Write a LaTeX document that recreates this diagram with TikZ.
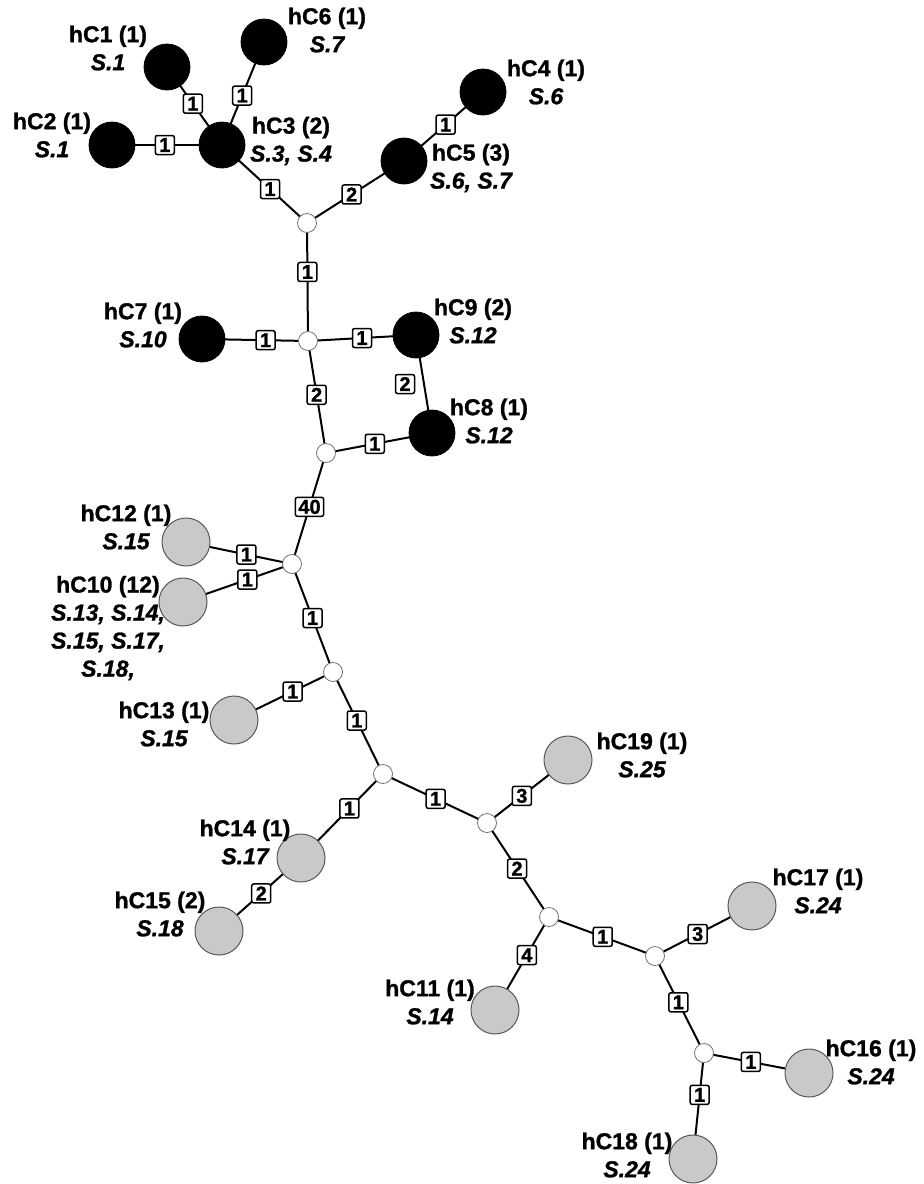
\documentclass[tikz,border=0pt]{standalone}
\usepackage{fontspec}
\setmainfont{Liberation Sans}[BoldFeatures={FakeBold=1.2},BoldItalicFeatures={FakeBold=1.2}]
\usetikzlibrary{backgrounds}
\tikzset{
  blk/.style={circle, fill=black, draw=black, line width=0.8pt, minimum size=46pt, inner sep=0pt},
  gry/.style={circle, fill=black!21, draw=black!65, line width=1pt, minimum size=48pt, inner sep=0pt},
  jn/.style={circle, fill=white, draw=black!55, line width=0.8pt, minimum size=19pt, inner sep=0pt},
  edge/.style={draw=black, line width=2pt},
  lab/.style={draw=black, fill=white, line width=1.5pt, rounded corners=2pt, minimum height=19pt, minimum width=19pt, inner xsep=3pt, inner ysep=1pt, font=\fontsize{20}{20}\selectfont\bfseries},
  txt/.style={align=center, font=\fontsize{23}{28}\selectfont\bfseries}
}
\begin{document}
\begin{tikzpicture}[x=1pt,y=-1pt]
\useasboundingbox (0,0) rectangle (924,1184);
% hubs
\node[blk] (c1) at (167,67) {};
\node[blk] (c6) at (264,42) {};
\node[blk] (c2) at (112,145) {};
\node[blk] (c3) at (222,145) {};
\node[blk] (c4) at (483,92) {};
\node[blk] (c5) at (404,161) {};
\node[blk] (c7) at (202,339) {};
\node[blk] (c9) at (416,335) {};
\node[blk] (c8) at (432,433) {};
\node[gry] (c12) at (186,542) {};
\node[gry] (c10) at (183,602) {};
\node[gry] (c13) at (234,720) {};
\node[gry] (c14) at (301,858) {};
\node[gry] (c15) at (219,931) {};
\node[gry] (c19) at (568,760) {};
\node[gry] (c11) at (495,1010) {};
\node[gry] (c17) at (752,906) {};
\node[gry] (c16) at (809,1073) {};
\node[gry] (c18) at (693,1159) {};
% junctions
\node[jn] (j1) at (307,223) {};
\node[jn] (j2) at (308,341) {};
\node[jn] (j3) at (326,453) {};
\node[jn] (j4) at (292,564) {};
\node[jn] (j5) at (333,672) {};
\node[jn] (j6) at (383,774) {};
\node[jn] (j7) at (487,823) {};
\node[jn] (j8) at (549,917) {};
\node[jn] (j9) at (655,956) {};
\node[jn] (j10) at (704,1053) {};
% edges
\begin{scope}[on background layer]
\draw[edge] (c3.center) -- node[lab,pos=0.53] {1} (c1.center);
\draw[edge] (c3.center) -- node[lab,pos=0.48] {1} (c6.center);
\draw[edge] (c2.center) -- node[lab,pos=0.48] {1} (c3.center);
\draw[edge] (c3.center) -- node[lab,pos=0.565] {1} (j1.center);
\draw[edge] (j1.center) -- node[lab,pos=0.46] {2} (c5.center);
\draw[edge] (c5.center) -- node[lab,pos=0.527] {1} (c4.center);
\draw[edge] (j1.center) -- node[lab,pos=0.415] {1} (j2.center);
\draw[edge] (c7.center) -- node[lab,pos=0.6] {1} (j2.center);
\draw[edge] (j2.center) -- node[lab,pos=0.5] {1} (c9.center);
\draw[edge] (j2.center) -- node[lab,pos=0.48] {2} (j3.center);
\draw[edge] (c9.center) -- node[lab,pos=0.5,xshift=-19pt] {2} (c8.center);
\draw[edge] (j3.center) -- node[lab,pos=0.46] {1} (c8.center);
\draw[edge] (j3.center) -- node[lab,pos=0.485] {40} (j4.center);
\draw[edge] (c12.center) -- node[lab,pos=0.57] {1} (j4.center);
\draw[edge] (c10.center) -- node[lab,pos=0.59] {1} (j4.center);
\draw[edge] (j4.center) -- node[lab,pos=0.5] {1} (j5.center);
\draw[edge] (c13.center) -- node[lab,pos=0.593] {1} (j5.center);
\draw[edge] (j5.center) -- node[lab,pos=0.476] {1} (j6.center);
\draw[edge] (j6.center) -- node[lab,pos=0.41] {1} (c14.center);
\draw[edge] (c14.center) -- node[lab,pos=0.485] {2} (c15.center);
\draw[edge] (j6.center) -- node[lab,pos=0.506] {1} (j7.center);
\draw[edge] (j7.center) -- node[lab,pos=0.43] {3} (c19.center);
\draw[edge] (j7.center) -- node[lab,pos=0.485] {2} (j8.center);
\draw[edge] (j8.center) -- node[lab,pos=0.41] {4} (c11.center);
\draw[edge] (j8.center) -- node[lab,pos=0.507] {1} (j9.center);
\draw[edge] (j9.center) -- node[lab,pos=0.44] {3} (c17.center);
\draw[edge] (j9.center) -- node[lab,pos=0.477] {1} (j10.center);
\draw[edge] (j10.center) -- node[lab,pos=0.446] {1} (c16.center);
\draw[edge] (j10.center) -- node[lab,pos=0.395] {1} (c18.center);
\end{scope}
% texts
\node[txt] (t1) at (108,48) {hC1 (1)\\\itshape S.1};
\node[txt] (t6) at (327,30) {hC6 (1)\\\itshape S.7};
\node[txt] (t2) at (52,135) {hC2 (1)\\\itshape S.1};
\node[txt] (t3) at (291,141) {hC3 (2)\\\itshape S.3, S.4};
\node[txt] (t4) at (546,82) {hC4 (1)\\\itshape S.6};
\node[txt] (t5) at (471,168) {hC5 (3)\\\itshape S.6, S.7};
\node[txt] (t7) at (143,325) {hC7 (1)\\\itshape S.10};
\node[txt] (t9) at (473,321) {hC9 (2)\\\itshape S.12};
\node[txt] (t8) at (489,421) {hC8 (1)\\\itshape S.12};
\node[txt] (t12) at (126,527) {hC12 (1)\\\itshape S.15};
\node[txt] (t10) at (108,628) {hC10 (12)\\\itshape S.13, S.14,\\\itshape S.15, S.17,\\\itshape S.18,};
\node[txt] (t13) at (164,724) {hC13 (1)\\\itshape S.15};
\node[txt] (t14) at (245,842) {hC14 (1)\\\itshape S.17};
\node[txt] (t15) at (160,914) {hC15 (2)\\\itshape S.18};
\node[txt] (t11) at (430,1002) {hC11 (1)\\\itshape S.14};
\node[txt] (t19) at (642,755) {hC19 (1)\\\itshape S.25};
\node[txt] (t17) at (818,891) {hC17 (1)\\\itshape S.24};
\node[txt] (t16) at (871,1062) {hC16 (1)\\\itshape S.24};
\node[txt] (t18) at (627,1155) {hC18 (1)\\\itshape S.24};
\end{tikzpicture}
\end{document}
